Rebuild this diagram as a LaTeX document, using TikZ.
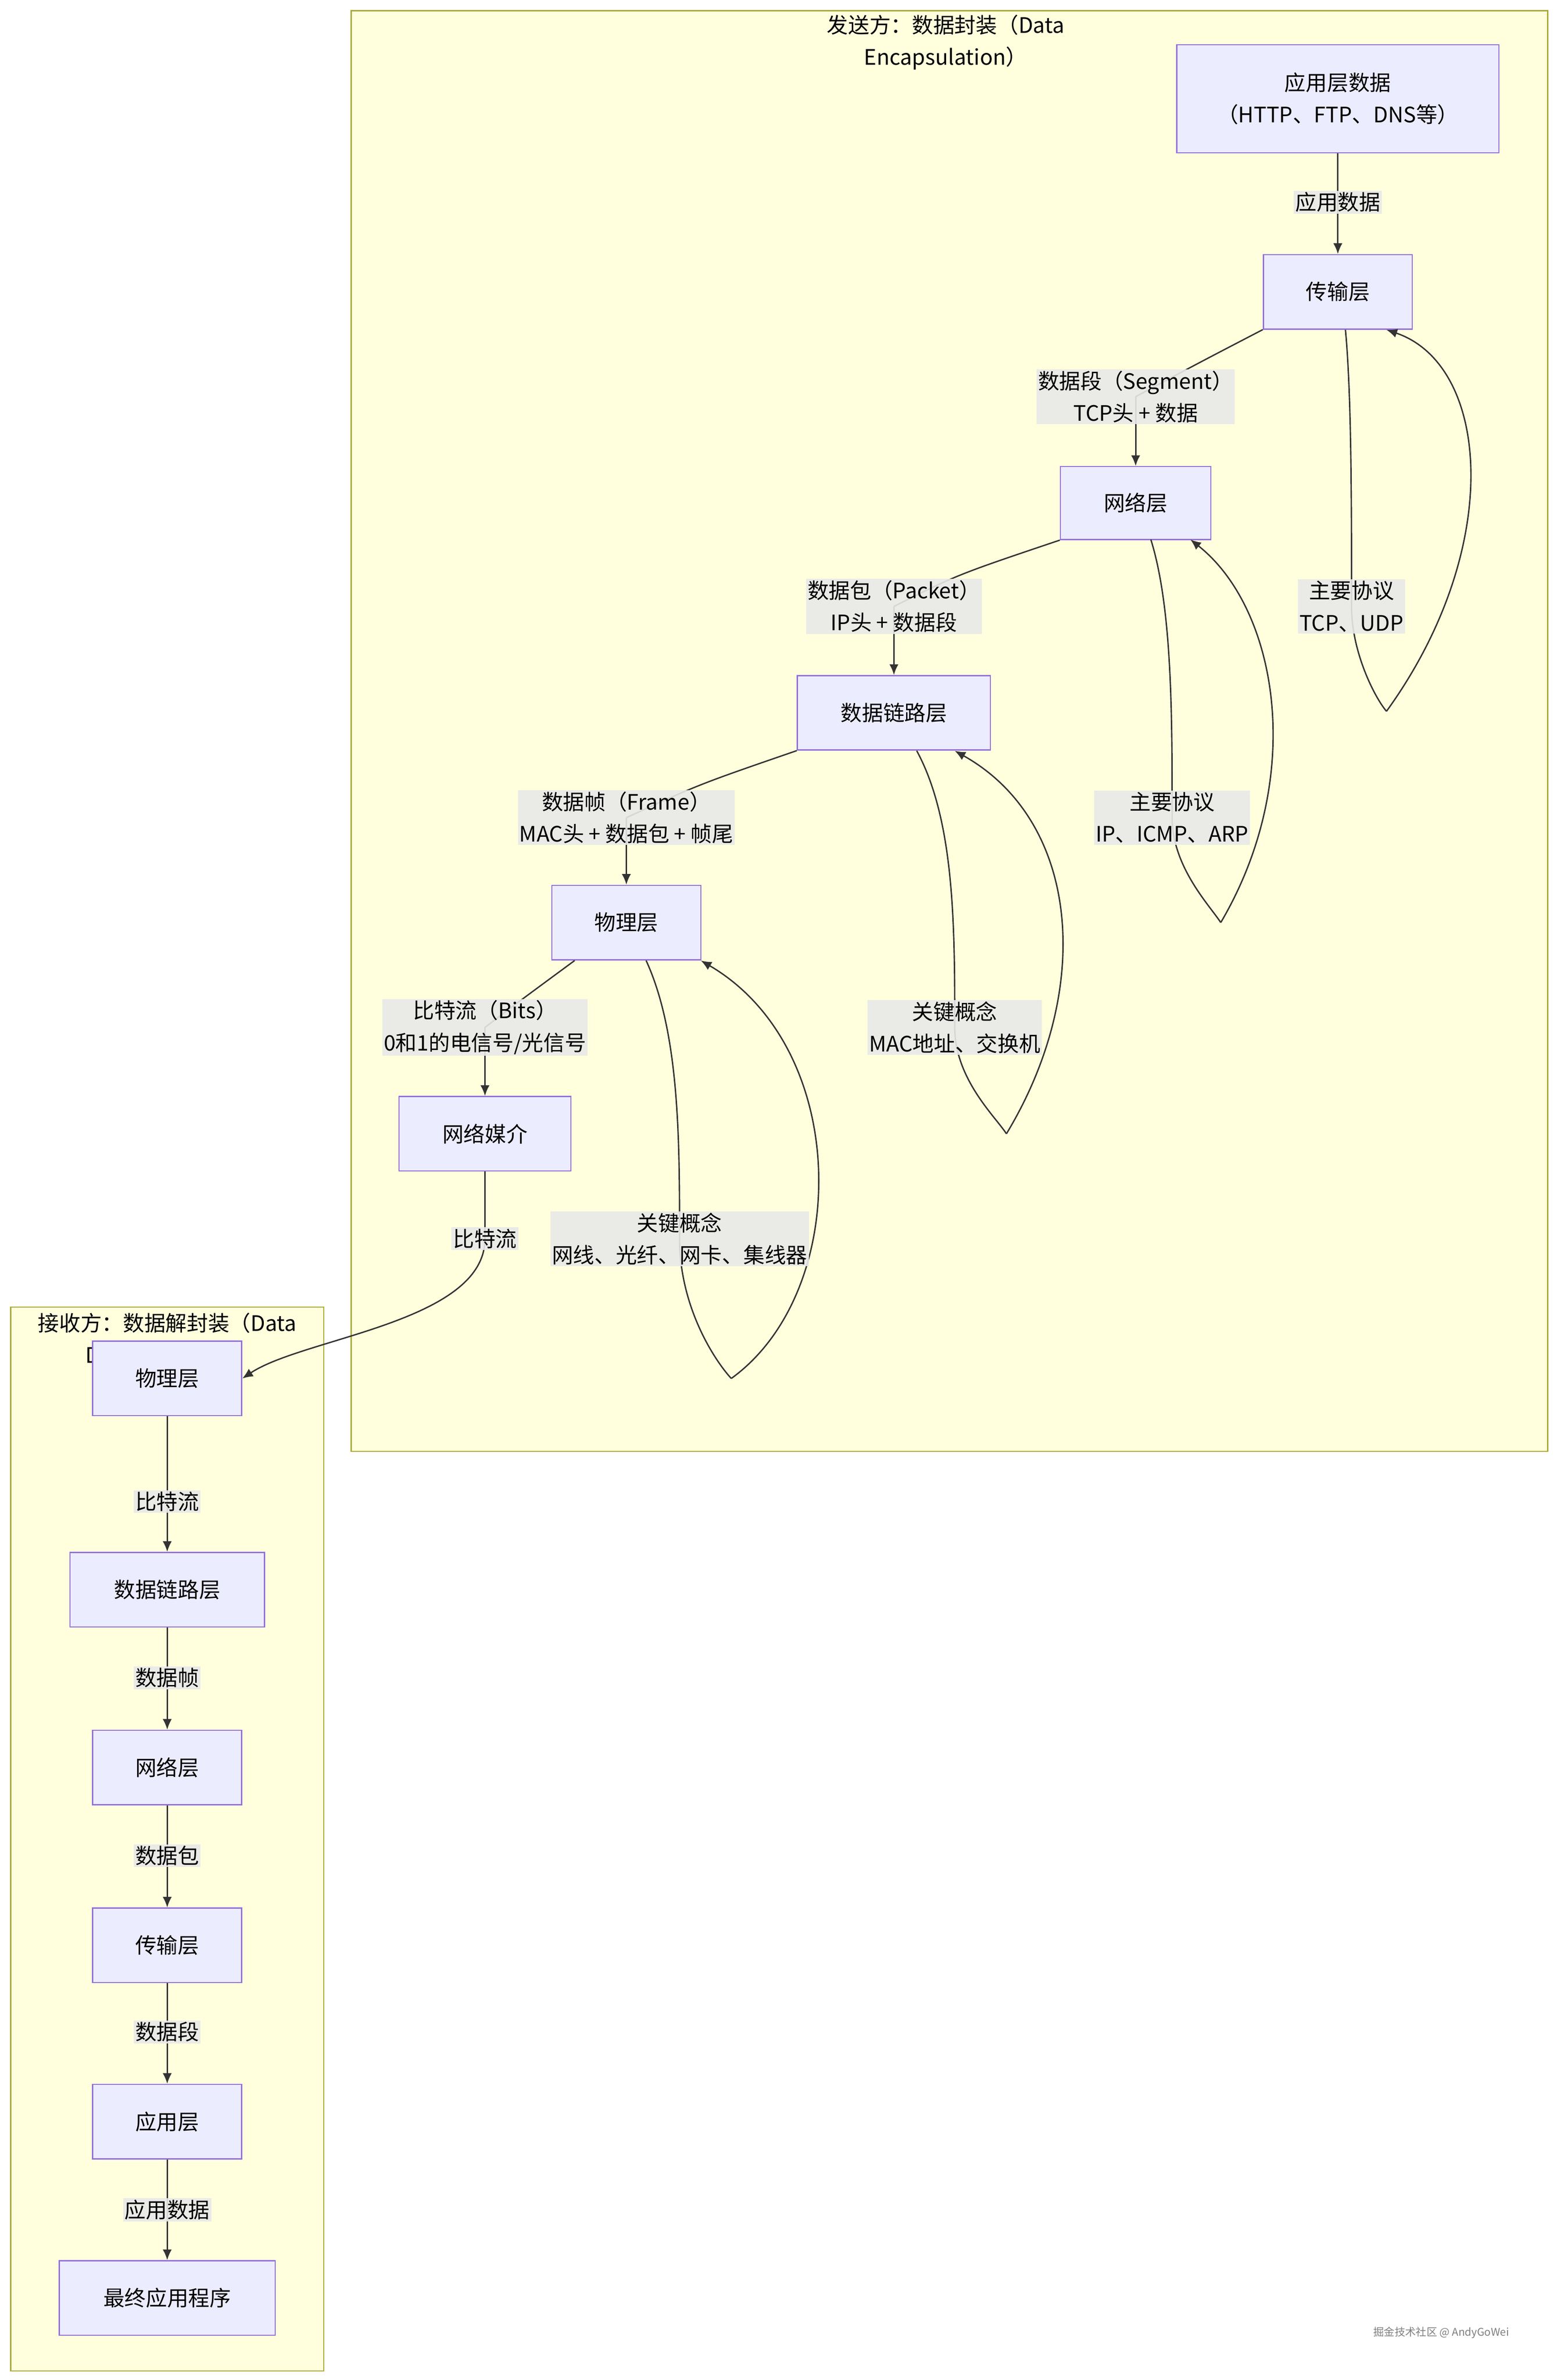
\documentclass[tikz,border=0pt]{standalone}
\usepackage{fontspec}
\setmainfont{Noto Sans CJK SC}
\usetikzlibrary{arrows.meta}
\definecolor{nodefill}{HTML}{ECECFF}
\definecolor{nodeline}{HTML}{9370DB}
\definecolor{clfill}{HTML}{FFFFDE}
\definecolor{clline}{HTML}{AAAA33}
\definecolor{lblbg}{HTML}{E8E8E8}
\definecolor{edge}{HTML}{333333}
\begin{document}
\begin{tikzpicture}[x=1pt,y=-1pt,
  box/.style={draw=nodeline,fill=nodefill,line width=0.8pt,inner sep=0pt,align=center,font=\fontsize{14}{21}\selectfont},
  lbl/.style={fill=lblbg,fill opacity=0.9,text opacity=1,inner sep=1pt,align=center,font=\fontsize{14}{21}\selectfont},
  cl/.style={draw=clline,fill=clfill,line width=0.8pt},
  ttl/.style={align=center,font=\fontsize{14}{21}\selectfont},
  ln/.style={draw=edge,line width=0.9pt},
  ar/.style={ln,-{Latex[length=7pt,width=6pt]}}]
\fill[white] (0,0) rectangle (1024,1566);
\useasboundingbox (0,0) rectangle (1024,1566);
% clusters
\draw[cl] (231,7) rectangle (1018,955);
\node[ttl] (st) at (622,28) {发送方：数据封装（Data\\Encapsulation）};
\draw[cl] (7,860) rectangle (213,1560);
\node[ttl] (rt) at (110,882) {接收方：数据解封装（Data\\Decapsulation）};
% sender nodes
\node[box,minimum width=212,minimum height=71] (A) at (880,65) {应用层数据\\（HTTP、FTP、DNS等）};
\node[box,minimum width=98,minimum height=49] (T) at (880,192) {传输层};
\node[box,minimum width=99,minimum height=48] (N) at (747,331) {网络层};
\node[box,minimum width=127,minimum height=49] (D) at (588,469) {数据链路层};
\node[box,minimum width=98,minimum height=49] (P) at (412,607) {物理层};
\node[box,minimum width=113,minimum height=49] (M) at (319,746) {网络媒介};
% receiver nodes
\node[box,minimum width=98,minimum height=49] (R1) at (110,907) {物理层};
\node[box,minimum width=128,minimum height=49] (R2) at (110,1046) {数据链路层};
\node[box,minimum width=98,minimum height=49] (R3) at (110,1163) {网络层};
\node[box,minimum width=98,minimum height=49] (R4) at (110,1280) {传输层};
\node[box,minimum width=98,minimum height=49] (R5) at (110,1396) {应用层};
\node[box,minimum width=142,minimum height=49] (R6) at (110,1512) {最终应用程序};
% coordinates
\coordinate (l1) at (880,133);
\coordinate (l2) at (747,261);
\coordinate (l3) at (588,399);
\coordinate (l4) at (412,538);
\coordinate (l5) at (319,676);
\coordinate (l6) at (319,815);
\coordinate (p1) at (889,399);
\coordinate (p2) at (771,538);
\coordinate (p3) at (628,676);
\coordinate (p4) at (447,815);
\coordinate (q1) at (912,468);
\coordinate (q2) at (803,607);
\coordinate (q3) at (662,746);
\coordinate (q4) at (481,907);
% main edges
\draw[ln] (A.south) -- (l1);
\draw[ar] (l1) -- (T.north);
\draw[ln] (T.south west) .. controls (790,238) .. (l2);
\draw[ar] (l2) -- (N.north);
\draw[ln] (N.south west) .. controls (630,378) .. (l3);
\draw[ar] (l3) .. controls (588,430) .. (D.north);
\draw[ln] (D.south west) .. controls (460,516) .. (l4);
\draw[ar] (l4) .. controls (412,570) .. (P.north);
\draw[ln] (378,632) .. controls (340,660) .. (l5);
\draw[ar] (l5) .. controls (319,710) .. (M.north);
\draw[ln] (M.south) -- (l6);
\draw[ar] (l6) .. controls (319,870) and (200,880) .. (R1.east);
% self loops
\draw[ln] (885,217) .. controls (889,260) and (889,330) .. (p1) .. controls (889,430) and (905,460) .. (q1);
\draw[ar] (q1) .. controls (990,360) and (980,240) .. (912,217);
\draw[ln] (757,355) .. controls (771,400) and (771,470) .. (p2) .. controls (771,570) and (795,595) .. (q2);
\draw[ar] (q2) .. controls (860,510) and (840,400) .. (783,355);
\draw[ln] (603,494) .. controls (628,540) and (628,610) .. (p3) .. controls (628,710) and (655,735) .. (q3);
\draw[ar] (q3) .. controls (720,650) and (710,540) .. (628,494);
\draw[ln] (425,632) .. controls (447,680) and (447,750) .. (p4) .. controls (447,860) and (470,895) .. (q4);
\draw[ar] (q4) .. controls (560,850) and (560,690) .. (461,632);
% receiver edges
\draw[ar] (R1) -- (R2);
\draw[ar] (R2) -- (R3);
\draw[ar] (R3) -- (R4);
\draw[ar] (R4) -- (R5);
\draw[ar] (R5) -- (R6);
% labels
\node[lbl] at (l1) {应用数据};
\node[lbl] at (l2) {数据段（Segment）\\TCP头 + 数据};
\node[lbl] at (l3) {数据包（Packet）\\IP头 + 数据段};
\node[lbl] at (l4) {数据帧（Frame）\\MAC头 + 数据包 + 帧尾};
\node[lbl] at (l5) {比特流（Bits）\\0和1的电信号/光信号};
\node[lbl] at (l6) {比特流};
\node[lbl] at (p1) {主要协议\\TCP、UDP};
\node[lbl] at (p2) {主要协议\\IP、ICMP、ARP};
\node[lbl] at (p3) {关键概念\\MAC地址、交换机};
\node[lbl] at (p4) {关键概念\\网线、光纤、网卡、集线器};
\node[lbl] at (110,988) {比特流};
\node[lbl] at (110,1104) {数据帧};
\node[lbl] at (110,1221) {数据包};
\node[lbl] at (110,1337) {数据段};
\node[lbl] at (110,1454) {应用数据};
% redraw receiver top node over the title
\node[box,minimum width=98,minimum height=49] at (110,907) {物理层};
\node[font=\fontsize{7}{8}\selectfont,text=gray] (wm) at (948,1535) {掘金技术社区 @ AndyGoWei};
\end{tikzpicture}
\end{document}
